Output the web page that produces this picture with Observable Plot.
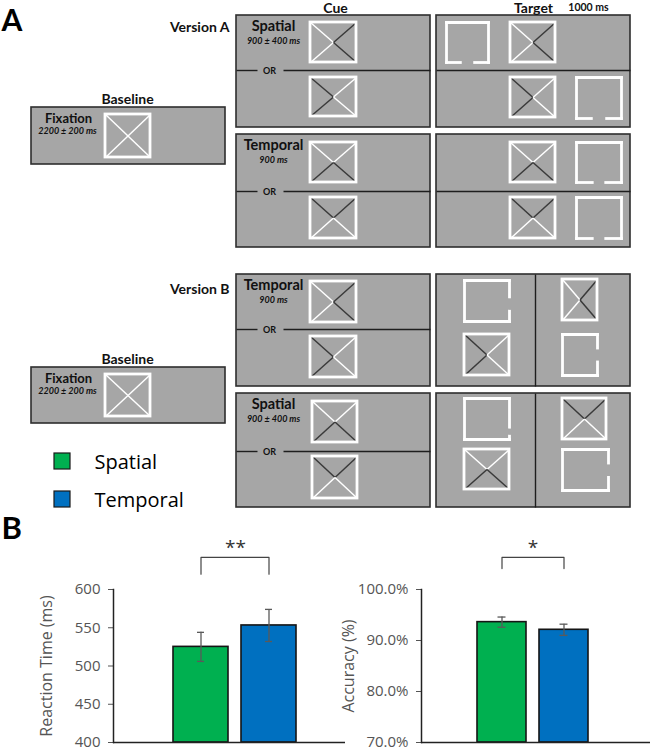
<!DOCTYPE html>
<html><head><meta charset="utf-8">
<script src="https://cdn.jsdelivr.net/npm/d3@7"></script>
<script src="https://cdn.jsdelivr.net/npm/@observablehq/plot@0.6"></script>
<style>
body{margin:0;background:#fff;}
#wrap{position:relative;width:650px;height:750px;overflow:hidden;background:#fff;}
#wrap > svg{position:absolute;}
</style></head><body><div id="wrap"></div>
<script>
// ===== Panel B data =====
const conditions = ["Spatial", "Temporal"];
const condColors = ["#00b050", "#0070c0"];
const rtMean = [525, 553];
const rtSE = [19, 21];
const accMean = [93.6, 92.1];
const accSE = [1.0, 1.1];
const rtTicks = [400, 450, 500, 550, 600];
const accTicks = [70, 80, 90, 100];
const rtAxisLabel = "Reaction Time (ms)";
const accAxisLabel = "Accuracy (%)";
const rtSig = "**";
const accSig = "*";
const rtBracket = [620, 642];      // annotation levels (value units)
const accBracket = [104.1, 106.3];

// ===== Panel A schematic (layout of the task diagram) =====
const headers = [
  {text: "Cue", x: 335, y: 8, size: 14},
  {text: "Target", x: 533, y: 8, size: 14},
  {text: "1000 ms", x: 588, y: 7, size: 10.5}
];
const versionLabels = [{text: "Version A", y: 27}, {text: "Version B", y: 289}];
const baselines = [{top: 107, bottom: 164}, {top: 367, bottom: 423}];
const trials = [
  {cond: "Spatial", dur: "900 ± 400 ms", top: 15, mid: 70, bottom: 127, version: "A"},
  {cond: "Temporal", dur: "900 ms", top: 134, mid: 191, bottom: 247, version: "A"},
  {cond: "Temporal", dur: "900 ms", top: 274, mid: 329, bottom: 386, version: "B"},
  {cond: "Spatial", dur: "900 ± 400 ms", top: 393, mid: 451, bottom: 507, version: "B"}
];
const cuePanelX = [236, 430], targetPanelX = [436, 630], baselineX = [31, 225], splitX = 535;
// crossed squares: [x1, x2, y1, y2, dark side]
const crosses = [
  [105, 150, 114, 157, null], [105, 150, 374, 416, null],
  [310, 356, 22, 62, "right"], [310, 356, 77, 116, "left"],
  [510, 555, 22, 62, "right"], [510, 555, 77, 117, "left"],
  [310, 356, 142, 182, "bottom"], [310, 356, 197, 238, "top"],
  [510, 555, 142, 182, "bottom"], [510, 555, 197, 238, "top"],
  [310, 356, 281, 322, "right"], [310, 356, 336, 377, "left"],
  [464, 509, 334, 375, "left"], [562, 597, 279, 320, "right"],
  [312, 357, 401, 442, "bottom"], [312, 357, 456, 498, "top"],
  [464, 509, 449, 489, "bottom"], [562, 606, 398, 439, "top"]
];
// gapped squares: [x1, x2, y1, y2, gap side, gap start, gap end]
const gapped = [
  [446, 488, 22, 62, "bottom", .33, .67], [576, 621, 77, 118, "bottom", .33, .67],
  [576, 621, 142, 182, "bottom", .35, .65], [576, 621, 197, 238, "bottom", .35, .65],
  [464, 509, 280, 321, "right", .4, .75], [562, 597, 334, 375, "right", .33, .67],
  [464, 509, 398, 439, "right", .7, .92], [562, 608, 449, 490, "right", .33, .68]
];

const diagFont = "Lato, 'Open Sans', sans-serif";
const chartFont = "'Open Sans', 'Noto Sans', sans-serif";
const panelFill = "#a6a6a6", panelStroke = "#2e2e2e", darkLine = "#3a3a3a";

// derived geometry
const panels = [];
trials.forEach(t => {
  panels.push({x1: cuePanelX[0], x2: cuePanelX[1], y1: t.top, y2: t.bottom});
  panels.push({x1: targetPanelX[0], x2: targetPanelX[1], y1: t.top, y2: t.bottom});
});
baselines.forEach(b => panels.push({x1: baselineX[0], x2: baselineX[1], y1: b.top, y2: b.bottom}));

const dividers = [];
const orLabels = [];
trials.forEach(t => {
  dividers.push({x1: cuePanelX[0], x2: 257, y1: t.mid, y2: t.mid});
  dividers.push({x1: 283, x2: cuePanelX[1], y1: t.mid, y2: t.mid});
  orLabels.push({x: 269, y: t.mid + 1});
  if (t.version === "A") dividers.push({x1: targetPanelX[0], x2: targetPanelX[1], y1: t.mid, y2: t.mid});
  else dividers.push({x1: splitX, x2: splitX, y1: t.top, y2: t.bottom});
});

const crossRects = crosses.map(([x1, x2, y1, y2]) => ({x1, x2, y1, y2}));
const diagSegs = [];
crosses.forEach(([x1, x2, y1, y2, dark]) => {
  const cx = (x1 + x2) / 2, cy = (y1 + y2) / 2;
  const corners = {tl: [x1, y1], tr: [x2, y1], bl: [x1, y2], br: [x2, y2]};
  const darkSet = {right: ["tr", "br"], left: ["tl", "bl"], top: ["tl", "tr"], bottom: ["bl", "br"]}[dark] || [];
  for (const k of Object.keys(corners)) {
    diagSegs.push({x1: cx, y1: cy, x2: corners[k][0], y2: corners[k][1], dark: darkSet.includes(k)});
  }
});
const gapSegs = [];
gapped.forEach(([x1, x2, y1, y2, side, g0, g1]) => {
  gapSegs.push({x1, y1, x2, y2: y1});          // top
  gapSegs.push({x1, y1, x2: x1, y2});          // left
  if (side === "bottom") {
    gapSegs.push({x1: x2, y1, x2, y2});        // right
    const w = x2 - x1;
    gapSegs.push({x1, y1: y2, x2: x1 + w * g0, y2});
    gapSegs.push({x1: x1 + w * g1, y1: y2, x2, y2});
  } else {
    gapSegs.push({x1, y1: y2, x2, y2});        // bottom
    const h = y2 - y1;
    gapSegs.push({x1: x2, y1, x2, y2: y1 + h * g0});
    gapSegs.push({x1: x2, y1: y1 + h * g1, x2, y2});
  }
});

const legendItems = conditions.map((c, i) => ({cond: c, x1: 54, x2: 70, y1: [453, 491][i], y2: [469, 507][i], ty: [462, 500][i]}));

const wrap = document.getElementById("wrap");

const diagram = Plot.plot({
  width: 650, height: 750, margin: 0,
  style: {background: "transparent", overflow: "visible"},
  x: {domain: [0, 650], range: [0, 650], axis: null},
  y: {domain: [0, 750], range: [0, 750], axis: null},
  color: {domain: conditions, range: condColors},
  marks: [
    Plot.rect(panels, {x1: "x1", x2: "x2", y1: "y1", y2: "y2", fill: panelFill, stroke: panelStroke, strokeWidth: 1.6}),
    Plot.link(dividers, {x1: "x1", x2: "x2", y1: "y1", y2: "y2", stroke: "#1e1e1e", strokeWidth: 1.4}),
    Plot.link(diagSegs, {x1: "x1", x2: "x2", y1: "y1", y2: "y2", stroke: d => d.dark ? darkLine : "white", strokeWidth: 1.5}),
    Plot.rect(crossRects, {x1: "x1", x2: "x2", y1: "y1", y2: "y2", fill: "none", stroke: "white", strokeWidth: 2.8}),
    Plot.link(gapSegs, {x1: "x1", x2: "x2", y1: "y1", y2: "y2", stroke: "white", strokeWidth: 2.8, strokeLinecap: "square"}),
    // labels
    Plot.text(["A"], {x: 1, y: 21, textAnchor: "start", fontSize: 30, fontWeight: "bold", fontFamily: diagFont, fill: "#000"}),
    Plot.text(["B"], {x: 1, y: 529, textAnchor: "start", fontSize: 31, fontWeight: "bold", fontFamily: diagFont, fill: "#000"}),
    Plot.text(headers.filter(h => h.size > 12), {x: "x", y: "y", text: "text", fontSize: 14, fontWeight: "bold", fontFamily: diagFont, fill: "#111"}),
    Plot.text(headers.filter(h => h.size <= 12), {x: "x", y: "y", text: "text", fontSize: 10.5, fontWeight: "bold", fontFamily: diagFont, fill: "#111"}),
    Plot.text(versionLabels, {x: 229, y: "y", text: "text", textAnchor: "end", fontSize: 14, fontWeight: "bold", fontFamily: diagFont, fill: "#111"}),
    Plot.text(baselines, {x: 127, y: d => d.top - 8, text: () => "Baseline", fontSize: 14, fontWeight: "bold", fontFamily: diagFont, fill: "#111"}),
    Plot.text(baselines, {x: 68, y: d => d.top + 11, text: () => "Fixation", fontSize: 13, fontWeight: "bold", fontFamily: diagFont, fill: "#111"}),
    Plot.text(baselines, {x: 67, y: d => d.top + 24, text: () => "2200 ± 200 ms", fontSize: 9, fontWeight: "bold", fontStyle: "italic", fontFamily: diagFont, fill: "#111"}),
    Plot.text(trials, {x: 273, y: d => d.top + 11, text: "cond", fontSize: 14.5, fontWeight: "bold", fontFamily: diagFont, fill: "#111"}),
    Plot.text(trials, {x: 273, y: d => d.top + 26, text: "dur", fontSize: 9, fontWeight: "bold", fontStyle: "italic", fontFamily: diagFont, fill: "#111"}),
    Plot.text(orLabels, {x: "x", y: "y", text: () => "OR", fontSize: 9, fontWeight: "bold", fontFamily: diagFont, fill: "#111"}),
    // legend
    Plot.rect(legendItems, {x1: "x1", x2: "x2", y1: "y1", y2: "y2", fill: "cond", stroke: "#1a1a1a", strokeWidth: 1.2}),
    Plot.text(legendItems, {x: 94, y: "ty", text: "cond", textAnchor: "start", fontSize: 20, fontFamily: chartFont, fill: "#000"})
  ]
});
diagram.style.left = "0px"; diagram.style.top = "0px";
wrap.appendChild(diagram);

function barChart({means, ses, ticks, tickFormat, label, labelDx, sig, bracket, sigDx, left, width, marginLeft, xRange, padInner, capInset}) {
  const rows = conditions.map((c, i) => ({cond: c, mean: means[i], se: ses[i]}));
  const y0 = ticks[0];
  const bracketPts = [
    {cond: conditions[0], v: bracket[0]}, {cond: conditions[0], v: bracket[1]},
    {cond: conditions[1], v: bracket[1]}, {cond: conditions[1], v: bracket[0]}
  ];
  const svg = Plot.plot({
    width, height: 235, marginTop: 74, marginBottom: 8, marginLeft, marginRight: 0,
    style: {background: "transparent", overflow: "visible", fontFamily: chartFont},
    x: {domain: conditions, range: xRange, paddingInner: padInner, paddingOuter: 0, axis: null},
    y: {domain: [ticks[0], ticks[ticks.length - 1]], axis: null},
    color: {domain: conditions, range: condColors},
    marks: [
      Plot.barY(rows, {x: "cond", y1: y0, y2: "mean", fill: "cond", stroke: "#151515", strokeWidth: 1.6}),
      Plot.ruleX(rows, {x: "cond", y1: d => d.mean - d.se, y2: d => d.mean + d.se, stroke: "#5a5a5a", strokeWidth: 1.3}),
      Plot.tickY(rows, {x: "cond", y: d => d.mean - d.se, stroke: "#5a5a5a", strokeWidth: 1.3, insetLeft: capInset, insetRight: capInset}),
      Plot.tickY(rows, {x: "cond", y: d => d.mean + d.se, stroke: "#5a5a5a", strokeWidth: 1.3, insetLeft: capInset, insetRight: capInset}),
      Plot.axisY({ticks, tickFormat, tickSize: 5, tickPadding: 8, fontSize: 15, color: "#555", label: null}),
      Plot.ruleY([y0], {stroke: "#222", strokeWidth: 1.5}),
      Plot.frame({anchor: "left", stroke: "#222", strokeWidth: 1.5}),
      Plot.text([label], {frameAnchor: "left", textAnchor: "middle", rotate: -90, dx: labelDx, fontSize: 16, fill: "#555"}),
      Plot.line(bracketPts, {x: "cond", y: "v", stroke: "#444", strokeWidth: 1.2}),
      Plot.text([sig], {frameAnchor: "top", textAnchor: "middle", dx: sigDx, dy: -49, fontSize: 19, letterSpacing: 2, fill: "#333"})
    ]
  });
  svg.style.left = left + "px"; svg.style.top = "515px";
  return svg;
}

wrap.appendChild(barChart({
  means: rtMean, ses: rtSE, ticks: rtTicks, tickFormat: d => String(d), label: rtAxisLabel, labelDx: -67,
  sig: rtSig, bracket: rtBracket, sigDx: 6, left: 0, width: 345, marginLeft: 113,
  xRange: [173, 297], padInner: 0.19, capInset: 24
}));
wrap.appendChild(barChart({
  means: accMean, ses: accSE, ticks: accTicks, tickFormat: d => d.toFixed(1) + "%", label: accAxisLabel, labelDx: -73,
  sig: accSig, bracket: accBracket, sigDx: -3, left: 330, width: 320, marginLeft: 91,
  xRange: [147, 258], padInner: 0.21, capInset: 20.5
}));
</script></body></html>
